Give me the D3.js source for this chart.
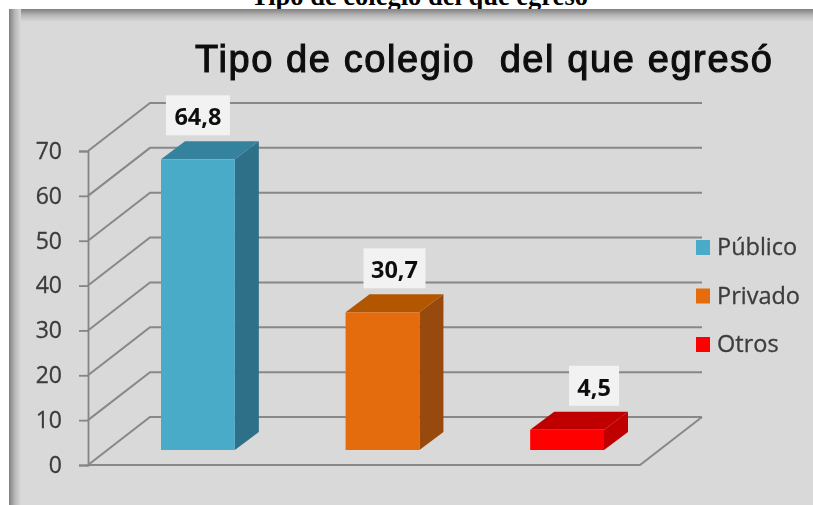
<!DOCTYPE html>
<html>
<head>
<meta charset="utf-8">
<script src="https://cdn.jsdelivr.net/npm/d3@7"></script>
<style>
	html, body { margin: 0; padding: 0; background: #fff; overflow: hidden; }
	svg { display: block; }
</style>
</head>
<body>
<div id="chart"></div>
<script>
//values
var categories = ["Público", "Privado", "Otros"];
var values = [64.8, 30.7, 4.5];
var y_ticks = [0, 10, 20, 30, 40, 50, 60, 70];
var page_title = "Tipo de colegio del que egresó";
var chart_title = "Tipo de colegio  del que egresó";

var W = 813, H = 505;
var frame_x = 9, frame_y = 9;
var wall_dx = 62, wall_dy = -48; //offset of the back wall from the axis
var bar_dx = 24, bar_dy = -18; //depth of the bars
var bar_lift = 15; //bars stand this far up the floor

var comma = d3.formatLocale({decimal: ",", thousands: ".", grouping: [3], currency: ["", ""]}).format(".1f");

var svg = d3.select("#chart").append("svg")
	.attr("width", W)
	.attr("height", H);

var defs = svg.append("defs");
defs.append("filter").attr("id", "soft").append("feGaussianBlur").attr("stdDeviation", 0.7);
function make_gradient(id, x2, y2) {
	var g = defs.append("linearGradient").attr("id", id)
		.attr("x1", 0).attr("y1", 0).attr("x2", x2).attr("y2", y2);
	g.append("stop").attr("offset", 0).attr("stop-color", "#808080");
	g.append("stop").attr("offset", 0.5).attr("stop-color", "#b8b8b8");
	g.append("stop").attr("offset", 1).attr("stop-color", "#d9d9d9");
}
make_gradient("edge_left", 1, 0);
make_gradient("edge_top", 0, 1);

//the caption above the picture, cut off by it
svg.append("text")
	.attr("x", 419.5)
	.attr("y", 5)
	.attr("text-anchor", "middle")
	.style("font-family", "'Liberation Serif', serif")
	.style("font-weight", "bold")
	.style("font-size", "26.5px")
	.text(page_title);

svg.append("rect").attr("x", frame_x).attr("y", frame_y).attr("width", W - frame_x).attr("height", H - frame_y).attr("fill", "#d9d9d9");
svg.append("rect").attr("x", frame_x).attr("y", frame_y).attr("width", W - frame_x).attr("height", 13).attr("fill", "url(#edge_top)");
svg.append("rect").attr("x", frame_x).attr("y", frame_y).attr("width", 12).attr("height", H - frame_y).attr("fill", "url(#edge_left)");

var chart = svg.append("g").attr("filter", "url(#soft)");

var y = d3.scaleLinear().domain([0, 70]).range([465, 151]);
var x = d3.scaleBand().domain(categories).range([161, 604]).paddingInner(0.6).paddingOuter(0);
var fronts = d3.scaleOrdinal().domain(categories).range(["#4aabc8", "#e46c0a", "#ff0000"]);
var sides = d3.scaleOrdinal().domain(categories).range(["#2d6f87", "#984807", "#c00000"]);
var tops = d3.scaleOrdinal().domain(categories).range(["#35829e", "#b35600", "#c00000"]);

var axis_x = 88, floor_right = 640;

//gridlines, back wall and side wall
var grid = chart.append("g").attr("fill", "none").attr("stroke", "#888").attr("stroke-width", 2);
grid.selectAll("path.grid")
	.data(y_ticks)
	.enter().append("path")
	.attr("class", "grid")
	.attr("d", function(d) {
		return "M" + axis_x + "," + y(d) + "L" + (axis_x + wall_dx) + "," + (y(d) + wall_dy) + "H" + (floor_right + wall_dx);
	});
grid.append("path")
	.attr("d", "M" + axis_x + "," + y(0) + "H" + floor_right + "l" + wall_dx + "," + wall_dy);

//value axis, its ticks reach left of the line
var yAxis = d3.axisLeft(y).tickValues(y_ticks).tickSize(9).tickPadding(17).tickFormat(d3.format("d"));
var axis_g = chart.append("g")
	.attr("transform", "translate(" + axis_x + ",0)")
	.call(yAxis);
axis_g.selectAll("line").attr("stroke", "#858585").attr("stroke-width", 1.8);
axis_g.select(".domain").attr("stroke", "#858585").attr("stroke-width", 1.8);
axis_g.selectAll("text")
	.attr("fill", "#3c3c3c")
	.attr("stroke", "#3c3c3c")
	.attr("stroke-width", 0.3)
	.style("font-family", "'Open Sans', sans-serif")
	.style("font-size", "23px");

//bars
var bars = chart.selectAll("g.bar")
	.data(categories.map(function(c, i) { return {name: c, value: values[i]}; }))
	.enter().append("g")
	.attr("class", "bar");

function bar_top(d) { return y(d.value) - bar_lift; }
function bar_bottom() { return y(0) - bar_lift; }

bars.append("path")
	.attr("fill", function(d) { return sides(d.name); })
	.attr("d", function(d) {
		var r = x(d.name) + x.bandwidth();
		return "M" + r + "," + bar_top(d) + "l" + bar_dx + "," + bar_dy + "V" + (bar_bottom() + bar_dy) + "l" + (-bar_dx) + "," + (-bar_dy) + "Z";
	});
bars.append("path")
	.attr("fill", function(d) { return tops(d.name); })
	.attr("d", function(d) {
		return "M" + x(d.name) + "," + bar_top(d) + "l" + bar_dx + "," + bar_dy + "h" + x.bandwidth() + "l" + (-bar_dx) + "," + (-bar_dy) + "Z";
	});
bars.append("rect")
	.attr("x", function(d) { return x(d.name); })
	.attr("y", bar_top)
	.attr("width", x.bandwidth())
	.attr("height", function(d) { return bar_bottom() - bar_top(d); })
	.attr("fill", function(d) { return fronts(d.name); });

//data labels on white boxes, each shifted by hand from its bar centre
var label_w = [64, 62, 50];
var label_shift = [0, 12, 27];
function label_x(d, i) { return x(d.name) + x.bandwidth() / 2 + label_shift[i]; }
bars.append("rect")
	.attr("x", function(d, i) { return label_x(d, i) - label_w[i] / 2; })
	.attr("y", function(d) { return bar_top(d) + bar_dy - 46; })
	.attr("width", function(d, i) { return label_w[i]; })
	.attr("height", 40)
	.attr("fill", "#f2f2f2");
bars.append("text")
	.attr("x", label_x)
	.attr("y", function(d) { return bar_top(d) + bar_dy - 16; })
	.attr("text-anchor", "middle")
	.attr("fill", "#111")
	.style("font-family", "'Open Sans', sans-serif")
	.style("font-weight", "700")
	.style("font-size", "23.5px")
	.text(function(d) { return comma(d.value); });

//legend
var legend_y = d3.scalePoint().domain(categories).range([247, 344]);
var legend = chart.selectAll("g.legend")
	.data(categories)
	.enter().append("g")
	.attr("class", "legend")
	.attr("transform", function(d) { return "translate(696," + legend_y(d) + ")"; });
legend.append("rect")
	.attr("y", -7)
	.attr("width", 14)
	.attr("height", 15)
	.attr("fill", function(d) { return fronts(d); });
legend.append("text")
	.attr("x", 21)
	.attr("y", 8)
	.attr("fill", "#3c3c3c")
	.attr("stroke", "#3c3c3c")
	.attr("stroke-width", 0.3)
	.style("font-family", "'Open Sans', sans-serif")
	.style("font-size", "23.5px")
	.text(function(d) { return d; });

//title inside the picture
chart.append("text")
	.attr("x", 195)
	.attr("y", 72)
	.attr("fill", "#111")
	.attr("stroke", "#111")
	.attr("stroke-width", 1.1)
	.style("font-family", "'Liberation Sans', sans-serif")
	.style("font-size", "38px")
	.style("letter-spacing", "1.6px")
	.style("white-space", "pre")
	.text(chart_title);
</script>
</body>
</html>
